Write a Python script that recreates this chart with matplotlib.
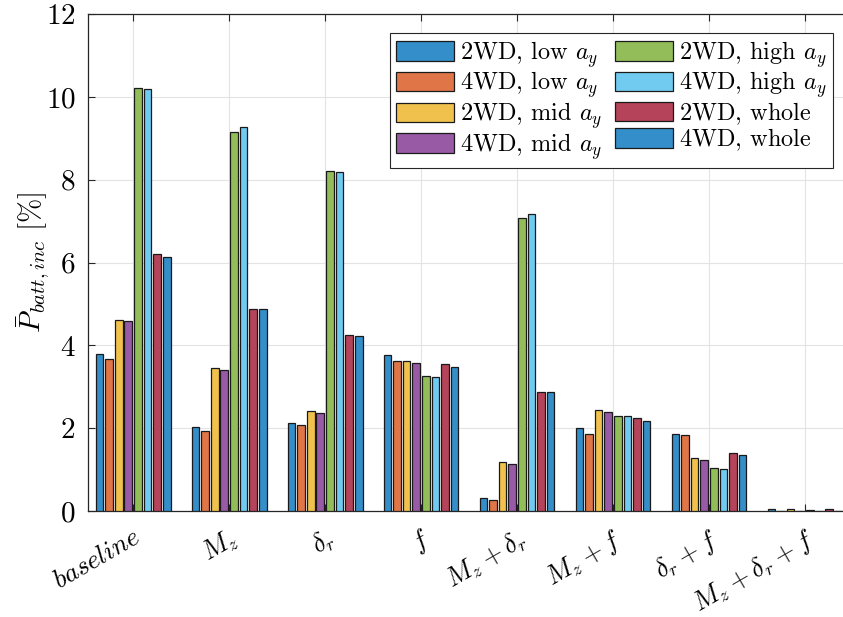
import numpy as np
import matplotlib
matplotlib.use("Agg")
import matplotlib.pyplot as plt

plt.rcParams["font.family"] = "serif"
plt.rcParams["font.serif"] = ["cmr10"]
plt.rcParams["mathtext.fontset"] = "cm"
plt.rcParams["axes.formatter.use_mathtext"] = True

categories = [r"$baseline$", r"$M_z$", r"$\delta_r$", r"$f$",
              r"$M_z\:+\:\delta_r$", r"$M_z\:+\:f$", r"$\delta_r\:+\:f$",
              r"$M_z\:+\:\delta_r\:+\:f$"]

series_names = [r"2WD, low $a_y$", r"4WD, low $a_y$",
                r"2WD, mid $a_y$", r"4WD, mid $a_y$",
                r"2WD, high $a_y$", r"4WD, high $a_y$",
                r"2WD, whole$_{\ }$", r"4WD, whole$_{\ }$"]

wd2_low  = [3.80, 2.04, 2.12, 3.76, 0.31, 2.00, 1.87, 0.05]
wd4_low  = [3.67, 1.92, 2.08, 3.62, 0.26, 1.87, 1.83, 0.00]
wd2_mid  = [4.61, 3.45, 2.41, 3.62, 1.19, 2.43, 1.27, 0.06]
wd4_mid  = [4.58, 3.40, 2.36, 3.58, 1.14, 2.38, 1.22, 0.00]
wd2_high = [10.21, 9.14, 8.20, 3.27, 7.07, 2.29, 1.05, 0.03]
wd4_high = [10.19, 9.26, 8.18, 3.23, 7.17, 2.29, 1.01, 0.00]
wd2_all  = [6.21, 4.88, 4.25, 3.55, 2.87, 2.24, 1.40, 0.05]
wd4_all  = [6.14, 4.87, 4.22, 3.48, 2.87, 2.18, 1.35, 0.00]

series = [wd2_low, wd4_low, wd2_mid, wd4_mid,
          wd2_high, wd4_high, wd2_all, wd4_all]

colors = ["#338ECA", "#E07547", "#F1C14D", "#9859A5",
          "#92BD59", "#71CBF1", "#B54359", "#338ECA"]

fig = plt.figure(figsize=(8.43, 6.17), dpi=100)
ax = fig.add_axes([0.1044, 0.1718, 0.904, 0.8055])

x = np.arange(1, len(categories) + 1)
n = len(series)
step = 0.1
width = 0.08
for i, (vals, c, name) in enumerate(zip(series, colors, series_names)):
    offs = (i - (n - 1) / 2) * step
    ax.bar(x + offs, vals, width=width, color=c, edgecolor="#1a1a1a",
           linewidth=0.9, label=name, zorder=3)

ax.set_xlim(1 - 0.47, 8 + 0.47)
ax.set_ylim(0, 12)
ax.set_yticks(np.arange(0, 13, 2))
ax.set_xticks(x)
ax.set_xticklabels(categories, rotation=30, ha="right", va="top",
                   rotation_mode="anchor", fontsize=19)
ax.tick_params(axis="y", labelsize=21, pad=9)
ax.tick_params(direction="in", length=5, width=0.8, color="#262626",
               top=True, right=True)
ax.tick_params(axis="x", pad=10)

ax.grid(True, color="#e3e3e3", linewidth=0.8, zorder=0)
ax.set_axisbelow(True)
for sp in ax.spines.values():
    sp.set_color("#262626")
    sp.set_linewidth(0.9)

ax.set_ylabel(r"$\bar{P}_{batt,inc}\ [\%]$", fontsize=21)
ax.yaxis.set_label_coords(-0.047, 0.5)

leg = ax.legend(ncol=2, loc="upper right", bbox_to_anchor=(0.9777, 0.9618),
                borderaxespad=0.0,
                fontsize=17.5, handlelength=2.4, handleheight=0.85,
                handletextpad=0.25, columnspacing=0.5, labelspacing=0.0,
                borderpad=0.25, fancybox=False, framealpha=1)
leg.get_frame().set_edgecolor("#262626")
leg.get_frame().set_linewidth(0.8)

fig.savefig("out.png", dpi=100)
